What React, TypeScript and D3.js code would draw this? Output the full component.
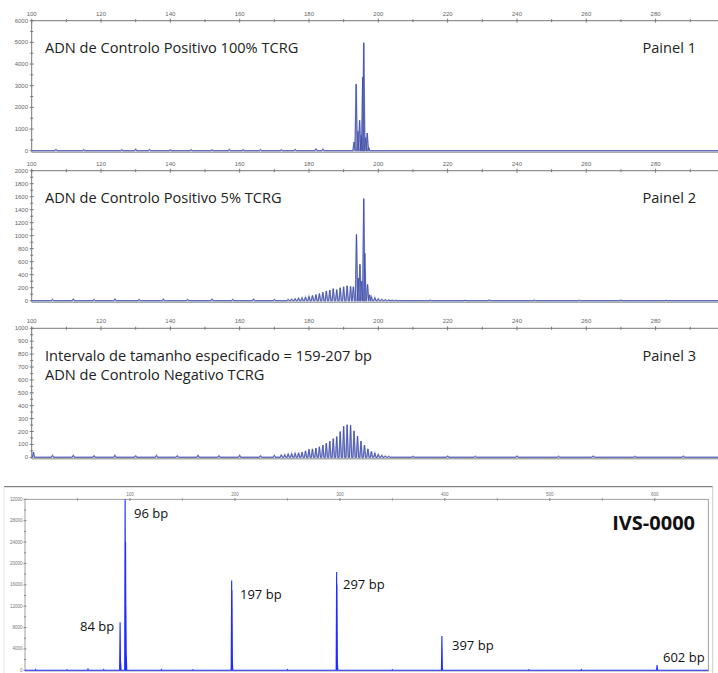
import React from 'react';
import * as d3 from 'd3';

// top three panels share one size axis
const sizeTicks = [100, 120, 140, 160, 180, 200, 220, 240, 260, 280];
const sizeMinor = [110, 130, 150, 170, 190, 210, 230, 250, 270, 290];

const panel1Ticks = [0, 1000, 2000, 3000, 4000, 5000, 6000];
const panel2Ticks = [0, 200, 400, 600, 800, 1000, 1200, 1400, 1600, 1800, 2000];
const panel3Ticks = [0, 100, 200, 300, 400, 500, 600, 700, 800, 900, 1000];

// [size, height]
const panel1Peaks: [number, number][] = [
  [107, 60], [115, 50], [126, 40], [130, 70], [134, 60], [140, 40], [146, 50],
  [152, 40], [157, 60], [161, 40], [166, 50], [172, 40], [176, 60], [182, 80], [184, 70],
  [193.0, 400], [193.6, 3070], [194.1, 900], [194.6, 1400], [195.1, 700],
  [195.5, 3400], [195.8, 4980], [196.3, 600], [196.8, 810], [197.2, 150],
];
const panel2Peaks: [number, number][] = [
  [106, 20], [112, 25], [118, 20], [124, 25], [131, 20], [138, 25], [145, 20],
  [152, 25], [158, 20], [164, 25], [170, 20],
  [174, 20], [175, 25], [176, 30], [177, 40], [178, 45], [179, 55], [180, 65],
  [181, 80], [182, 95], [183, 110], [184, 130], [185, 150], [186, 165], [187, 185],
  [188, 170], [189, 200], [190, 215], [191, 230], [192, 220], [192.8, 215],
  [193.7, 1020], [194.2, 350], [194.7, 560], [195.2, 300], [195.8, 1570],
  [196.1, 730], [196.9, 250], [197.5, 90], [198, 60], [199, 45], [200, 30],
  [201, 22], [202, 15], [203, 12], [204, 8], [205, 6],
  [215, 8], [225, 6], [232, 10], [245, 8], [258, 6], [270, 8], [283, 6],
];
const panel3Peaks: [number, number][] = [
  [100.5, 40], [106, 15], [112, 15], [118, 12], [124, 15], [130, 12], [136, 15],
  [142, 12], [148, 15], [154, 12], [160, 15], [166, 12],
  [170, 15], [172, 18], [173, 20], [174, 25], [175, 28], [176, 30], [177, 35],
  [178, 40], [179, 50], [180, 62], [181, 65], [182, 72], [183, 82], [184, 95],
  [185, 110], [186, 125], [187, 145], [188, 160], [189, 200], [190, 240],
  [191, 252], [192, 248], [193, 205], [194, 165], [195, 125], [196, 95],
  [197, 65], [198, 45], [199, 32], [200, 22], [201, 15], [202, 10], [203, 8],
  [210, 8], [220, 10], [228, 8], [240, 10], [252, 8], [262, 10], [274, 8], [288, 10],
];

// size standard panel
const ladderTicks = [100, 200, 300, 400, 500, 600];
const ladderMinor = [50, 150, 250, 350, 450, 550];
const ladderYTicks = [0, 4000, 8000, 12000, 16000, 20000, 24000, 28000, 32000];
const ladderPeaks: [number, number][] = [
  [10, 150], [40, 120], [60, 200], [75, 150],
  [90.6, 9000], [91.1, 1500], [95.4, 33000], [95.8, 24000], [96.1, 12000], [96.5, 3000],
  [130, 150], [160, 120],
  [196.9, 16800], [197.2, 15000], [197.5, 2000],
  [250, 150],
  [296.9, 18400], [297.2, 16000], [297.5, 2500],
  [350, 120], [397.2, 6400], [397.4, 900], [480, 120], [530, 150], [602.2, 1000],
];
const ladderLabels: [string, number, number][] = [
  ['84 bp', 80, 631],
  ['96 bp', 134, 518],
  ['197 bp', 240, 599],
  ['297 bp', 343, 589],
  ['397 bp', 452, 650],
  ['602 bp', 663, 662],
];

const titleFont = '"Open Sans", sans-serif';
const tickFont = 'Liberation Sans, Arial, sans-serif';

const tracePoints = (peaks: [number, number][], hw: number, d0: number, d1: number) => {
  const pts: [number, number][] = [[d0, 0]];
  [...peaks].sort((a, b) => a[0] - b[0]).forEach(([x, h]) => {
    pts.push([x - hw, 0], [x, h], [x + hw, 0]);
  });
  pts.push([d1, 0]);
  return pts;
};

type PanelProps = {
  top: number;
  bottom: number;
  yTicks: number[];
  peaks: [number, number][];
  titles: string[];
  label: string;
};

const Panel = ({ top, bottom, yTicks, peaks, titles, label }: PanelProps) => {
  const x = d3.scaleLinear().domain([100, 298]).range([31.7, 718]);
  const yMax = yTicks[yTicks.length - 1];
  const y = d3.scaleLinear().domain([0, yMax]).range([bottom, top]);
  const step = yTicks[1] - yTicks[0];
  const yMinor = yTicks.slice(0, -1).map((t) => t + step / 2);
  const line = d3
    .line<[number, number]>()
    .x((d) => x(d[0]))
    .y((d) => y(Math.min(d[1], yMax)));
  const pts = tracePoints(peaks, 0.32, 100, 298);
  return (
    <g>
      <line x1={31.7} x2={718} y1={top} y2={top} stroke="#777" strokeWidth={1} />
      <line x1={31.7} x2={31.7} y1={top} y2={bottom + 1.5} stroke="#777" strokeWidth={1} />
      <line x1={31.7} x2={718} y1={bottom + 1.5} y2={bottom + 1.5} stroke="#aaa" strokeWidth={1.5} />
      {sizeTicks.map((t) => (
        <g key={'x' + t}>
          <line x1={x(t)} x2={x(t)} y1={top - 2} y2={top + 2} stroke="#777" />
          <text x={x(t)} y={top - 5} fontSize={6} fill="#666" textAnchor="middle" fontFamily={tickFont}>
            {t}
          </text>
        </g>
      ))}
      {sizeMinor.map((t) => (
        <line key={'xm' + t} x1={x(t)} x2={x(t)} y1={top - 1.5} y2={top + 1.5} stroke="#777" />
      ))}
      {yTicks.map((t) => (
        <g key={'y' + t}>
          <line x1={29.7} x2={33.7} y1={y(t)} y2={y(t)} stroke="#777" />
          <text x={28} y={y(t) + 2} fontSize={6} fill="#666" textAnchor="end" fontFamily={tickFont}>
            {t}
          </text>
        </g>
      ))}
      {yMinor.map((t) => (
        <line key={'ym' + t} x1={30.2} x2={33.2} y1={y(t)} y2={y(t)} stroke="#777" />
      ))}
      <path d={line(pts) ?? ''} fill="none" stroke="#a9b0dd" strokeWidth={1.6} />
      <path d={line(pts) ?? ''} fill="none" stroke="#3d4ba6" strokeWidth={0.8} />
      {titles.map((s, i) => (
        <text key={s} x={45} y={top + 32.5 + i * 19.5} fontSize={14.6} fill="#222" fontFamily={titleFont}>
          {s}
        </text>
      ))}
      <text x={696} y={top + 32.5} fontSize={14.6} fill="#222" textAnchor="end" fontFamily={titleFont}>
        {label}
      </text>
    </g>
  );
};

const Ladder = () => {
  const x = d3.scaleLinear().domain([0, 651]).range([25, 708.3]);
  const y = d3.scaleLinear().domain([0, 32000]).range([670.3, 499.3]);
  const line = d3
    .line<[number, number]>()
    .x((d) => x(d[0]))
    .y((d) => y(Math.min(d[1], 32000)));
  const pts = tracePoints(ladderPeaks, 0.45, 0, 651);
  const yMinor = ladderYTicks.slice(0, -1).map((t) => t + 2000);
  return (
    <g>
      <line x1={4} x2={712.7} y1={486.7} y2={486.7} stroke="#666" strokeWidth={1} />
      <line x1={4} x2={4} y1={487} y2={673} stroke="#e4e4e4" strokeWidth={1} />
      <line x1={712.7} x2={712.7} y1={487} y2={673} stroke="#ccc" strokeWidth={1} />
      <rect x={25} y={499.3} width={683.3} height={171.7} fill="none" stroke="#888" strokeWidth={0.8} />
      {ladderTicks.map((t) => (
        <g key={'lx' + t}>
          <line x1={x(t)} x2={x(t)} y1={498} y2={501} stroke="#888" />
          <text x={x(t)} y={496} fontSize={4.5} fill="#777" textAnchor="middle" fontFamily={tickFont}>
            {t}
          </text>
        </g>
      ))}
      {ladderMinor.map((t) => (
        <line key={'lxm' + t} x1={x(t)} x2={x(t)} y1={498.3} y2={500.5} stroke="#888" />
      ))}
      {ladderYTicks.map((t) => (
        <g key={'ly' + t}>
          <line x1={23.5} x2={26.5} y1={y(t)} y2={y(t)} stroke="#888" />
          <text x={22.5} y={y(t) + 1.5} fontSize={4.5} fill="#777" textAnchor="end" fontFamily={tickFont}>
            {t}
          </text>
        </g>
      ))}
      {yMinor.map((t) => (
        <line key={'lym' + t} x1={24} x2={26} y1={y(t)} y2={y(t)} stroke="#888" />
      ))}
      <path d={line(pts) ?? ''} fill="#1f2bff" fillOpacity={0.25} stroke="#1f2bff" strokeWidth={1.1} />
      {ladderLabels.map(([s, lx, ly]) => (
        <text key={s} x={lx} y={ly} fontSize={13} fill="#111" fontFamily={titleFont}>
          {s}
        </text>
      ))}
      <text x={695} y={530} fontSize={20} fontWeight="bold" fill="#111" textAnchor="end" fontFamily={titleFont}>
        IVS-0000
      </text>
    </g>
  );
};

export default function App() {
  return (
    <svg
      width={718}
      height={673}
      style={{ position: 'absolute', left: 0, top: 0, background: '#fff' }}
    >
      <rect width={718} height={673} fill="#fff" />
      <Panel top={20.7} bottom={150.7} yTicks={panel1Ticks} peaks={panel1Peaks}
        titles={['ADN de Controlo Positivo 100% TCRG']} label="Painel 1" />
      <Panel top={170.7} bottom={300.7} yTicks={panel2Ticks} peaks={panel2Peaks}
        titles={['ADN de Controlo Positivo 5% TCRG']} label="Painel 2" />
      <Panel top={328.3} bottom={457.3} yTicks={panel3Ticks} peaks={panel3Peaks}
        titles={['Intervalo de tamanho especificado = 159-207 bp', 'ADN de Controlo Negativo TCRG']}
        label="Painel 3" />
      <Ladder />
    </svg>
  );
}
